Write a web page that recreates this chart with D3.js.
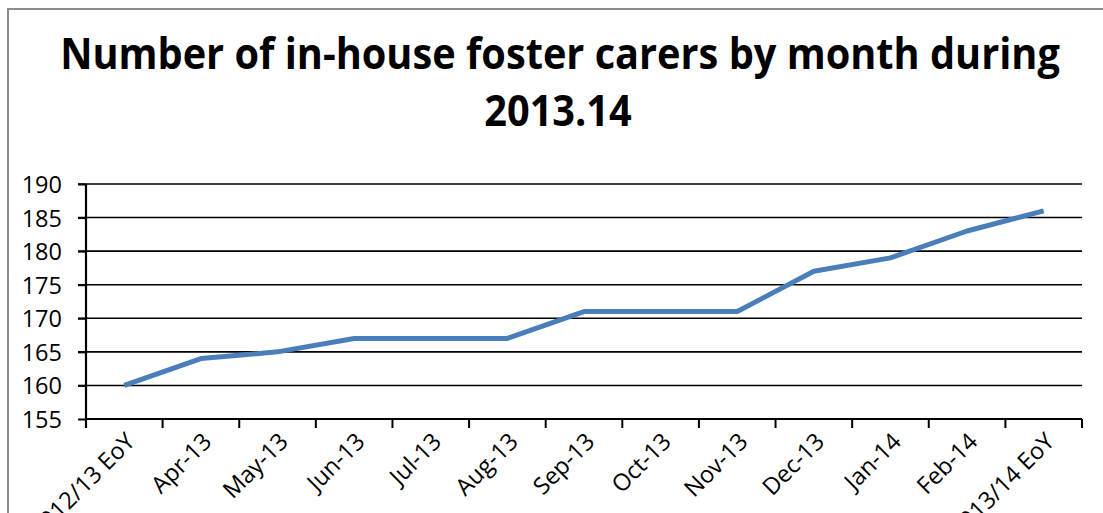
<!DOCTYPE html>
<html><head><meta charset="utf-8">
<script src="https://cdn.jsdelivr.net/npm/d3@7"></script>
<style>
html,body{margin:0;padding:0;background:#fff;}
svg{display:block;}
</style></head>
<body>
<script>
const categories = ["2012/13 EoY","Apr-13","May-13","Jun-13","Jul-13","Aug-13","Sep-13","Oct-13","Nov-13","Dec-13","Jan-14","Feb-14","2013/14 EoY"];
const carers = [160,164,165,167,167,167,171,171,171,177,179,183,186];
const yTicks = [155,160,165,170,175,180,185,190];
const titleLines = ["Number of in-house foster carers by month during","2013.14"];

const W = 1103, H = 513;
const svg = d3.select("body").append("svg").attr("width", W).attr("height", H);

// chart frame
svg.append("rect").attr("x", 8).attr("y", 9).attr("width", W + 20).attr("height", H + 20)
  .attr("fill", "none").attr("stroke", "#8c8c8c").attr("stroke-width", 2);

const m = {left: 86, right: 1082, top: 184, bottom: 419};
const x = d3.scaleBand().domain(categories).range([m.left, m.right]).padding(0);
const y = d3.scaleLinear().domain([155, 190]).range([m.bottom, m.top]);

const font = "'Open Sans', 'DejaVu Sans', sans-serif";

// title
const tg = svg.append("g");
const t1 = tg.append("text").attr("font-family", font).attr("font-weight", "bold")
  .attr("font-size", 43).attr("text-anchor", "middle").text(titleLines[0]);
const w1 = t1.node().getComputedTextLength();
const sx = Math.min(1, 1000 / w1);
t1.attr("transform", `translate(560,69) scale(${sx},1)`);
tg.append("text").attr("font-family", font).attr("font-weight", "bold")
  .attr("font-size", 43).attr("text-anchor", "middle")
  .attr("transform", `translate(558,126) scale(${sx},1)`).text(titleLines[1]);

// gridlines
svg.append("g").selectAll("line").data(yTicks.filter(d => d !== 155)).join("line")
  .attr("x1", m.left - 8).attr("x2", m.right)
  .attr("y1", d => y(d)).attr("y2", d => y(d))
  .attr("stroke", "#000").attr("stroke-width", 1.6);

// y axis
const yAxis = svg.append("g").attr("transform", `translate(${m.left},0)`)
  .call(d3.axisLeft(y).tickValues(yTicks).tickSize(8).tickPadding(16).tickFormat(d3.format("d")));
yAxis.select(".domain").attr("stroke", "#000").attr("stroke-width", 2.2)
  .attr("d", `M0,${m.top}V${m.bottom + 9}`);
yAxis.selectAll(".tick line").attr("stroke", "#000").attr("stroke-width", 2);
yAxis.selectAll(".tick text").attr("font-family", font).attr("font-size", 23.5).attr("fill", "#000")
  .attr("dy", "0.36em");

// x axis
const xAxis = svg.append("g").attr("transform", `translate(0,${m.bottom})`)
  .call(d3.axisBottom(x).tickSize(0).tickSizeOuter(0).tickFormat(d => d));
xAxis.select(".domain").attr("stroke", "#000").attr("stroke-width", 2.2)
  .attr("d", `M${m.left},0H${m.right}`);
xAxis.selectAll(".tick text")
  .attr("font-family", font).attr("font-size", 23.5).attr("fill", "#000")
  .attr("text-anchor", "end")
  .attr("transform", "translate(12,24) rotate(-45)")
  .attr("y", 0).attr("dy", 0);
// boundary tick marks
const bounds = categories.map(c => x(c)).concat([x(categories[categories.length - 1]) + x.bandwidth()]);
svg.append("g").selectAll("line").data(bounds).join("line")
  .attr("x1", d => d).attr("x2", d => d)
  .attr("y1", m.bottom).attr("y2", m.bottom + 9)
  .attr("stroke", "#000").attr("stroke-width", 2);

// line
const line = d3.line().x((d, i) => x(categories[i]) + x.bandwidth() / 2).y(d => y(d));
svg.append("path").datum(carers).attr("d", line)
  .attr("fill", "none").attr("stroke", "#4a7ebb").attr("stroke-width", 5)
  .attr("stroke-linejoin", "round").attr("stroke-linecap", "butt");
</script>
</body></html>
